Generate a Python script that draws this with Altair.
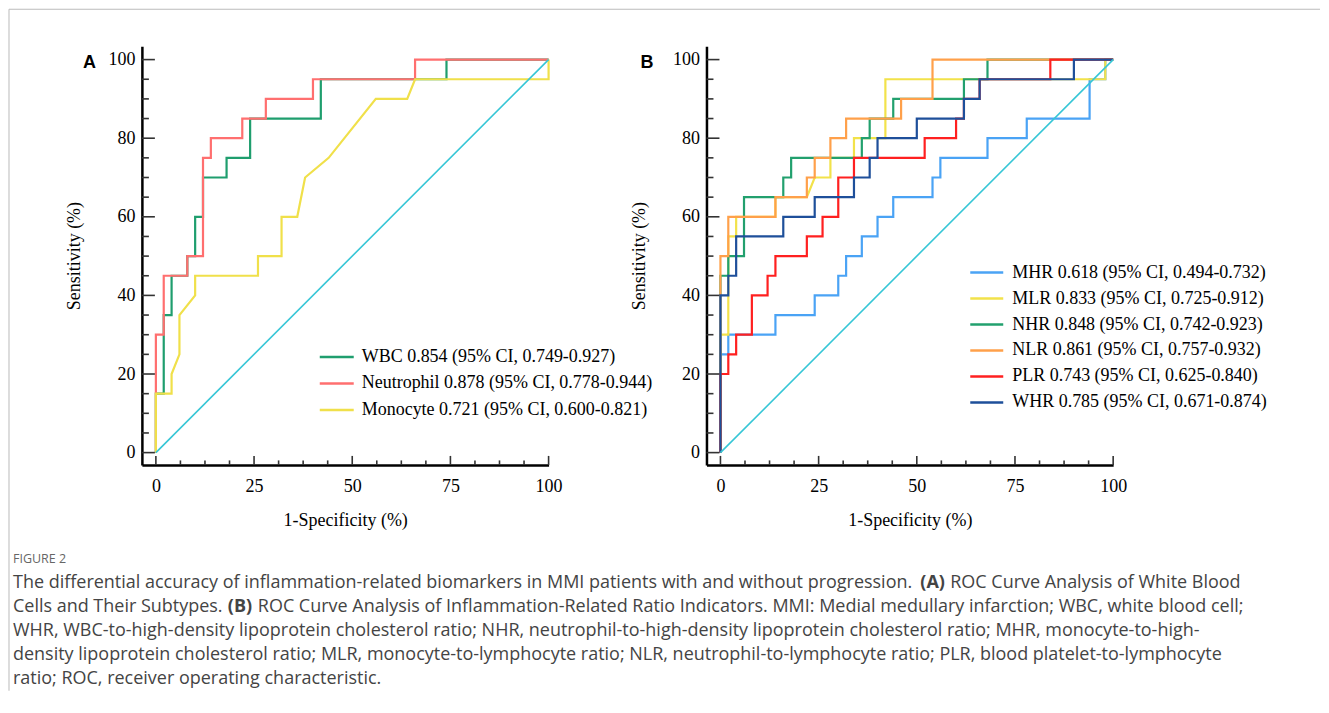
import altair as alt
import pandas as pd

# ---------------- data (1-Specificity %, Sensitivity %) ----------------
# Panel A
wbc_x = [0, 0, 2, 2, 4, 4, 8, 8, 10, 10, 12, 12, 18, 18, 24, 24, 42, 42, 74, 74, 100]
wbc_y = [0, 15, 15, 35, 35, 45, 45, 50, 50, 60, 60, 70, 70, 75, 75, 85, 85, 95, 95, 100, 100]
neu_x = [0, 0, 2, 2, 8, 8, 12, 12, 14, 14, 22, 22, 28, 28, 40, 40, 66, 66, 100]
neu_y = [0, 30, 30, 45, 45, 50, 50, 75, 75, 80, 80, 85, 85, 90, 90, 95, 95, 100, 100]
mono_x = [0, 0, 4, 4, 6, 6, 10, 10, 26, 26, 32, 32, 36, 38, 44, 56, 64, 66, 100, 100]
mono_y = [0, 15, 15, 20, 25, 35, 40, 45, 45, 50, 50, 60, 60, 70, 75, 90, 90, 95, 95, 100]

# Panel B
mhr_x = [0, 0, 2, 2, 14, 14, 24, 24, 30, 30, 32, 32, 36, 36, 40, 40, 44, 44, 54, 54, 56, 56, 68, 68, 78, 78, 94, 94, 98, 98, 100]
mhr_y = [0, 25, 25, 30, 30, 35, 35, 40, 40, 45, 45, 50, 50, 55, 55, 60, 60, 65, 65, 70, 70, 75, 75, 80, 80, 85, 85, 95, 95, 100, 100]
mlr_x = [0, 0, 2, 2, 4, 4, 14, 14, 22, 24, 28, 28, 34, 34, 42, 42, 98, 98, 100]
mlr_y = [0, 30, 30, 55, 55, 60, 60, 65, 65, 70, 70, 75, 75, 80, 80, 95, 95, 100, 100]
nhr_x = [0, 0, 2, 2, 6, 6, 16, 16, 18, 18, 36, 36, 38, 38, 44, 44, 62, 62, 68, 68, 100]
nhr_y = [0, 45, 45, 50, 50, 65, 65, 70, 70, 75, 75, 80, 80, 85, 85, 90, 90, 95, 95, 100, 100]
nlr_x = [0, 0, 2, 2, 14, 14, 22, 22, 24, 24, 28, 28, 32, 32, 46, 46, 54, 54, 100]
nlr_y = [0, 50, 50, 60, 60, 65, 65, 70, 70, 75, 75, 80, 80, 85, 85, 90, 90, 100, 100]
plr_x = [0, 0, 2, 2, 4, 4, 8, 8, 12, 12, 14, 14, 22, 22, 26, 26, 30, 30, 34, 34, 52, 52, 60, 60, 62, 62, 66, 66, 84, 84, 100]
plr_y = [0, 20, 20, 25, 25, 30, 30, 40, 40, 45, 45, 50, 50, 55, 55, 60, 60, 70, 70, 75, 75, 80, 80, 85, 85, 90, 90, 95, 95, 100, 100]
whr_x = [0, 0, 2, 2, 4, 4, 16, 16, 24, 24, 34, 34, 38, 38, 40, 40, 50, 50, 62, 62, 66, 66, 90, 90, 100]
whr_y = [0, 40, 40, 45, 45, 55, 55, 60, 60, 65, 65, 70, 70, 75, 75, 80, 80, 85, 85, 90, 90, 95, 95, 100, 100]

ref_x = [0, 100]
ref_y = [0, 100]

labels_a = ["WBC 0.854 (95% CI, 0.749-0.927)",
            "Neutrophil 0.878 (95% CI, 0.778-0.944)",
            "Monocyte 0.721 (95% CI, 0.600-0.821)"]
labels_b = ["MHR 0.618 (95% CI, 0.494-0.732)",
            "MLR 0.833 (95% CI, 0.725-0.912)",
            "NHR 0.848 (95% CI, 0.742-0.923)",
            "NLR  0.861 (95% CI, 0.757-0.932)",
            "PLR 0.743 (95% CI, 0.625-0.840)",
            "WHR 0.785 (95% CI, 0.671-0.874)"]

x_major = [0, 25, 50, 75, 100]
x_minor = [6.25, 12.5, 18.75, 31.25, 37.5, 43.75, 56.25, 62.5, 68.75, 81.25, 87.5, 93.75]
y_major = [0, 20, 40, 60, 80, 100]
y_minor = [5, 10, 15, 25, 30, 35, 45, 50, 55, 65, 70, 75, 85, 90, 95]

caption_head = "FIGURE 2"
caption_l1a = "The differential accuracy of inflammation-related biomarkers in MMI patients with and without progression."
caption_l1b = "(A)"
caption_l1c = "ROC Curve Analysis of White Blood"
caption_l2a = "Cells and Their Subtypes."
caption_l2b = "(B)"
caption_l2c = "ROC Curve Analysis of Inflammation-Related Ratio Indicators. MMI: Medial medullary infarction; WBC, white blood cell;"
caption_l3 = "WHR, WBC-to-high-density lipoprotein cholesterol ratio; NHR, neutrophil-to-high-density lipoprotein cholesterol ratio; MHR, monocyte-to-high-"
caption_l4 = "density lipoprotein cholesterol ratio; MLR, monocyte-to-lymphocyte ratio; NLR, neutrophil-to-lymphocyte ratio; PLR, blood platelet-to-lymphocyte"
caption_l5 = "ratio; ROC, receiver operating characteristic."

# ---------------- styling ----------------
SERIF = "Liberation Serif"
SANS = "Liberation Sans"
CAP = "Open Sans"
CAPSIZE = 18
W, H = 407, 419
XDOM = [-3.56, 100]
YDOM = [-3.13, 103.4]
DIAG = "#36C6D6"
dummy = pd.DataFrame({"d": [0]})

xscale = alt.Scale(domain=XDOM, nice=False, zero=False)
yscale = alt.Scale(domain=YDOM, nice=False, zero=False)

xaxis = alt.Axis(values=x_major, ticks=False, grid=False, domainColor="black", domainWidth=2.5,
                 labelFont=SERIF, labelFontSize=18, labelColor="black", labelPadding=13,
                 labelFlush=False, title="1-Specificity (%)", titleFont=SERIF, titleFontSize=18,
                 titleFontWeight="normal", titleColor="black", titlePadding=16)
yaxis = alt.Axis(values=y_major, ticks=False, grid=False, domainColor="black", domainWidth=2.5,
                 labelFont=SERIF, labelFontSize=18, labelColor="black", labelPadding=7,
                 labelFlush=False, title="Sensitivity (%)", titleFont=SERIF, titleFontSize=18,
                 titleFontWeight="normal", titleColor="black", titlePadding=24)


def curve(xs, ys, color, width=2.2):
    df = pd.DataFrame({"fpr": xs, "tpr": ys, "i": list(range(len(xs)))})
    return alt.Chart(df).mark_line(color=color, strokeWidth=width).encode(
        x=alt.X("fpr:Q", scale=xscale, axis=xaxis),
        y=alt.Y("tpr:Q", scale=yscale, axis=yaxis),
        order="i:Q",
    )


def yticks(vals, length):
    return alt.Chart(pd.DataFrame({"tpr": vals})).mark_rule(color="#333333", strokeWidth=1.6).encode(
        y=alt.Y("tpr:Q", scale=yscale, axis=yaxis), x=alt.value(0), x2=alt.value(length))


def xticks(vals, length):
    return alt.Chart(pd.DataFrame({"fpr": vals})).mark_rule(color="#333333", strokeWidth=1.6).encode(
        x=alt.X("fpr:Q", scale=xscale, axis=xaxis), y=alt.value(H), y2=alt.value(H - length))


def text(s, x, y, font=SERIF, size=18, weight="normal", color="black", align="left"):
    return alt.Chart(dummy).mark_text(text=s, font=font, fontSize=size, fontWeight=weight,
                                      color=color, align=align, baseline="middle").encode(
        x=alt.value(x), y=alt.value(y))


def seg(x0, x1, y, color, width=2.5):
    return alt.Chart(dummy).mark_rule(color=color, strokeWidth=width).encode(
        x=alt.value(x0), x2=alt.value(x1), y=alt.value(y))


def vseg(x, y0, y1, color, width=1):
    return alt.Chart(dummy).mark_rule(color=color, strokeWidth=width).encode(
        x=alt.value(x), y=alt.value(y0), y2=alt.value(y1))


def axis_ticks():
    return [yticks(y_major, 13), yticks(y_minor, 7), xticks(x_major, 9), xticks(x_minor, 4.5)]


# ---------------- panel A ----------------
cols_a = ["#1F9E6E", "#FF6F6F", "#F0E04A"]
layers_a = [curve(wbc_x, wbc_y, cols_a[0]),
            curve(neu_x, neu_y, cols_a[1]),
            curve(mono_x, mono_y, cols_a[2]),
            curve(ref_x, ref_y, DIAG, width=1.6)]
layers_a += axis_ticks()
for k, (lab, c) in enumerate(zip(labels_a, cols_a)):
    yy = 311 + k * 26.5
    layers_a.append(seg(178, 212, yy, c))
    layers_a.append(text(lab, 220, yy))
layers_a.append(text("A", -59, 17, font=SANS, size=18, weight="bold"))
# frame lines and caption
layers_a.append(seg(-133, 1179, -37, "#BBBBBB", width=1))
layers_a.append(vseg(-133, -37, 645, "#BBBBBB", width=1))
layers_a.append(text(caption_head, -129, 513, font=CAP, size=12.5, color="#666666"))
cap_y = [537, 561, 585, 609, 633]
CC = "#444444"
layers_a.append(text(caption_l1a, -129, cap_y[0], font=CAP, size=CAPSIZE, color=CC))
layers_a.append(text(caption_l1b, 779, cap_y[0], font=CAP, size=CAPSIZE, weight="bold", color=CC))
layers_a.append(text(caption_l1c, 809, cap_y[0], font=CAP, size=CAPSIZE, color=CC))
layers_a.append(text(caption_l2a, -129, cap_y[1], font=CAP, size=CAPSIZE, color=CC))
layers_a.append(text(caption_l2b, 86, cap_y[1], font=CAP, size=CAPSIZE, weight="bold", color=CC))
layers_a.append(text(caption_l2c, 116, cap_y[1], font=CAP, size=CAPSIZE, color=CC))
layers_a.append(text(caption_l3, -129, cap_y[2], font=CAP, size=CAPSIZE, color=CC))
layers_a.append(text(caption_l4, -129, cap_y[3], font=CAP, size=CAPSIZE, color=CC))
layers_a.append(text(caption_l5, -129, cap_y[4], font=CAP, size=CAPSIZE, color=CC))

panel_a = alt.layer(*layers_a).properties(width=W, height=H)

# ---------------- panel B ----------------
cols_b = ["#4AA3F5", "#F2E24A", "#22A06E", "#FFA04A", "#FF2020", "#1E4F9A"]
series_b = [(mhr_x, mhr_y), (mlr_x, mlr_y), (nhr_x, nhr_y), (nlr_x, nlr_y), (plr_x, plr_y), (whr_x, whr_y)]
layers_b = []
for (xs, ys), c in zip(series_b, cols_b):
    layers_b.append(curve(xs, ys, c))
layers_b.append(curve(ref_x, ref_y, DIAG, width=1.6))
layers_b += axis_ticks()
for k, (lab, c) in enumerate(zip(labels_b, cols_b)):
    yy = 226.5 + k * 26
    layers_b.append(seg(264, 297, yy, c))
    layers_b.append(text(lab, 306, yy))
layers_b.append(text("B", -66, 17, font=SANS, size=18, weight="bold"))

panel_b = alt.layer(*layers_b).properties(width=W, height=H)

chart = alt.hconcat(panel_a, panel_b, spacing=158, bounds="flush", padding=0).configure_view(stroke=None)

chart.save("out.html", embed_options={"renderer": "svg", "actions": False})
